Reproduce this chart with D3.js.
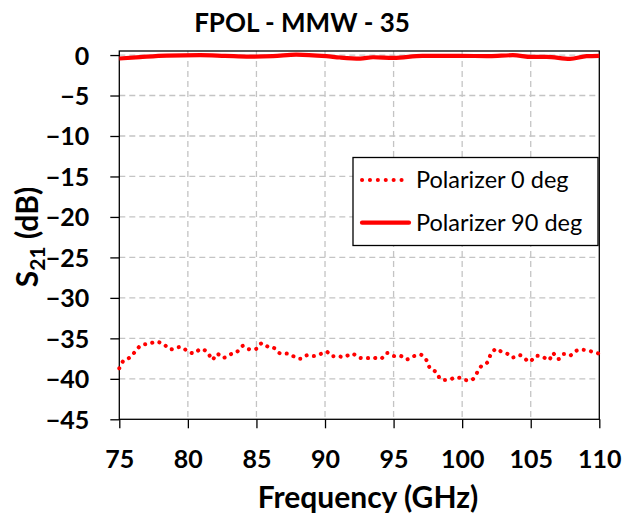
<!DOCTYPE html>
<html>
<head>
<meta charset="utf-8">
<script src="https://cdn.jsdelivr.net/npm/d3@7"></script>
<style>
  body { margin: 0; background: #fff; }
  text { font-family: Lato, "Open Sans", sans-serif; }
</style>
</head>
<body>
<svg id="chart" width="626" height="519"></svg>
<script>
// Polarizer 0 deg (dotted)
const freq0 = [75, 75.29, 75.73, 76.15, 76.58, 77.17, 77.72, 78.24, 78.72, 79.13, 79.55, 80.03, 80.5, 80.93, 81.44, 81.78, 82.12, 82.56, 83.09, 83.58, 84.02, 84.48, 85.06, 85.4, 85.89, 86.3, 86.72, 87.3, 87.79, 88.23, 88.66, 89.2, 89.73, 90.12, 90.49, 90.87, 91.38, 91.97, 92.53, 93.11, 93.55, 94.08, 94.5, 95.03, 95.54, 95.93, 96.49, 97.02, 97.44, 97.68, 98.12, 98.43, 98.99, 99.45, 99.82, 100.28, 100.72, 101.08, 101.4, 101.81, 102.08, 102.49, 102.83, 103.39, 103.69, 104.2, 104.61, 104.92, 105.36, 105.89, 106.33, 106.6, 107.01, 107.4, 107.84, 108.32, 108.74, 109.3, 109.85, 110];
const s21_0 = [-38.7, -37.8, -37.4, -36.66, -35.87, -35.67, -35.42, -35.74, -36.36, -36.16, -36.08, -36.66, -36.82, -36.32, -36.73, -37.65, -36.9, -37.4, -36.98, -36.66, -35.92, -36.36, -36.24, -35.58, -36.08, -36.2, -36.86, -36.9, -37.28, -37.52, -37.1, -37.19, -36.9, -36.66, -37.19, -37.15, -37.31, -36.9, -37.4, -37.44, -37.4, -37.52, -36.82, -37.19, -37.19, -37.6, -37.19, -37.03, -37.81, -38.76, -39.17, -40.04, -40.12, -39.88, -39.88, -40.16, -40.12, -39.26, -38.43, -38.02, -37.03, -36.29, -36.61, -36.98, -37.35, -37.07, -37.56, -37.9, -37.19, -37.31, -37.69, -36.82, -37.56, -36.94, -37.15, -36.53, -36.41, -36.57, -36.82, -36.9];

// Polarizer 90 deg (solid)
const freq90 = [75, 76.5, 78.46, 80.9, 82.7, 84.5, 86.2, 87.9, 90.1, 91.1, 92.56, 93.5, 95, 97.1, 99.8, 102, 103.7, 105.06, 106.16, 107.86, 109.07, 110];
const s21_90 = [-0.43, -0.25, -0.06, -0.02, -0.1, -0.19, -0.14, 0.06, -0.14, -0.3, -0.43, -0.27, -0.35, -0.1, -0.1, -0.14, -0.02, -0.23, -0.23, -0.47, -0.14, -0.1];

const xTicks = [75, 80, 85, 90, 95, 100, 105, 110];
const yTicks = [0, -5, -10, -15, -20, -25, -30, -35, -40, -45];
const seriesNames = ["Polarizer 0 deg", "Polarizer 90 deg"];

const svg = d3.select("#chart");
const plotL = 119.3, plotR = 599.3, plotT = 51, plotB = 419.3;

const x = d3.scaleLinear().domain([75, 110]).range([plotL, plotR]);
const y = d3.scaleLinear().domain([-45, 0.5]).range([plotB, plotT]);

// grid
svg.append("g")
  .selectAll("line")
  .data(yTicks.filter(d => d > -45))
  .join("line")
  .attr("x1", plotL).attr("x2", plotR)
  .attr("y1", d => y(d)).attr("y2", d => y(d))
  .attr("stroke", "#c4c4c4").attr("stroke-width", 1.3)
  .attr("stroke-dasharray", "6,4");

svg.append("g")
  .selectAll("line")
  .data(xTicks.filter(d => d > 75 && d < 110))
  .join("line")
  .attr("x1", d => x(d)).attr("x2", d => x(d))
  .attr("y1", plotT).attr("y2", plotB)
  .attr("stroke", "#c4c4c4").attr("stroke-width", 1.3)
  .attr("stroke-dasharray", "6,4");

// frame
svg.append("rect")
  .attr("x", plotL).attr("y", plotT)
  .attr("width", plotR - plotL).attr("height", plotB - plotT)
  .attr("fill", "none").attr("stroke", "#000").attr("stroke-width", 1.3);

// axes
const yAxis = svg.append("g")
  .attr("transform", `translate(${plotL},0)`)
  .call(d3.axisLeft(y).tickValues(yTicks).tickSize(9).tickPadding(21));
const xAxis = svg.append("g")
  .attr("transform", `translate(0,${plotB})`)
  .call(d3.axisBottom(x).tickValues(xTicks).tickSize(9).tickPadding(22));

[yAxis, xAxis].forEach(a => {
  a.select(".domain").remove();
  a.selectAll("line").attr("stroke", "#000").attr("stroke-width", 1.3);
  a.selectAll("text")
    .attr("fill", "#000")
    .style("font-size", "25px")
    .style("font-weight", "bold")
    .style("font-family", "Lato, sans-serif");
});
yAxis.selectAll("text").attr("dy", "0.36em");

// lines
const line = d3.line().x(d => x(d[0])).y(d => y(d[1])).curve(d3.curveMonotoneX);

svg.append("path")
  .datum(freq90.map((f, i) => [f, s21_90[i]]))
  .attr("d", line)
  .attr("fill", "none").attr("stroke", "#ff0000")
  .attr("stroke-width", 4.2);

svg.append("path")
  .datum(freq0.map((f, i) => [f, s21_0[i]]))
  .attr("d", d3.line().x(d => x(d[0])).y(d => y(d[1])).curve(d3.curveCatmullRom))
  .attr("fill", "none").attr("stroke", "#ff0000")
  .attr("stroke-width", 4)
  .attr("stroke-linecap", "round")
  .attr("stroke-dasharray", "0.1,7.2");

// legend
const lg = svg.append("g");
lg.append("rect")
  .attr("x", 353).attr("y", 157.5)
  .attr("width", 245).attr("height", 88)
  .attr("fill", "#fff").attr("stroke", "#000").attr("stroke-width", 1.3);

const lgRows = [180, 222.7];
seriesNames.forEach((name, i) => {
  lg.append("line")
    .attr("x1", 362).attr("x2", 409)
    .attr("y1", lgRows[i]).attr("y2", lgRows[i])
    .attr("stroke", "#ff0000")
    .attr("stroke-width", i === 0 ? 4 : 4.2)
    .attr("stroke-linecap", "round")
    .attr("stroke-dasharray", i === 0 ? "0.1,7.8" : null);
  lg.append("text")
    .attr("x", 416).attr("y", lgRows[i] + 8)
    .style("font-size", "23.5px")
    .text(name);
});

// titles
svg.append("text")
  .attr("x", 302).attr("y", 32)
  .attr("text-anchor", "middle")
  .style("font-size", "26px").style("font-weight", "bold")
  .text("FPOL - MMW - 35");

svg.append("text")
  .attr("x", 368).attr("y", 508)
  .attr("text-anchor", "middle")
  .style("font-size", "30px").style("font-weight", "bold")
  .text("Frequency (GHz)");

const yl = svg.append("text")
  .attr("transform", "translate(38,237) rotate(-90)")
  .attr("text-anchor", "middle")
  .style("font-size", "30px").style("font-weight", "bold");
yl.append("tspan").text("S");
yl.append("tspan").attr("dy", 7).style("font-size", "21px").text("21");
yl.append("tspan").attr("dy", -7).text(" (dB)");
</script>
</body>
</html>
